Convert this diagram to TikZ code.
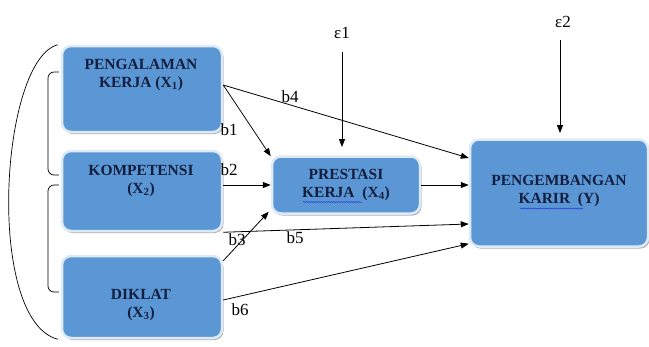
\documentclass[tikz,border=0pt]{standalone}
\usepackage{fontspec}
\setmainfont{Liberation Serif}
\usetikzlibrary{arrows.meta,shadows,decorations.pathmorphing,calc}
\definecolor{boxblue}{RGB}{91,151,213}
\definecolor{glow}{RGB}{222,234,246}
\definecolor{navy}{RGB}{20,30,62}
\definecolor{spell}{RGB}{40,60,220}
\begin{document}
\begin{tikzpicture}[x=1pt,y=-1pt,
  box/.style={draw=glow, line width=2.5pt, fill=boxblue, rounded corners=9pt,
    drop shadow={shadow xshift=1.5pt, shadow yshift=-2pt, fill=black!30, opacity=1},
    inner sep=0pt},
  ttl/.style={font=\bfseries\fontsize{15.5}{18}\selectfont, text=navy, align=center, inner sep=0pt},
  lab/.style={font=\fontsize{17}{17}\selectfont, inner sep=0pt},
  arr/.style={-{Triangle[length=8pt,width=6pt]}, line width=0.8pt},
  brk/.style={line width=0.7pt},
  wavy/.style={spell, line width=0.5pt, decorate, decoration={snake, amplitude=0.6pt, segment length=2.5pt}}
]
\useasboundingbox (0,0) rectangle (649,346);

% boxes
\node[box, minimum width=160pt, minimum height=86pt] (x1) at (142,89) {};
\node[box, minimum width=160pt, minimum height=80pt] (x2) at (142,191) {};
\node[box, minimum width=160pt, minimum height=82pt] (x3) at (142,297) {};
\node[box, minimum width=148pt, minimum height=57pt] (x4) at (346,185) {};
\node[box, minimum width=178pt, minimum height=107pt] (y) at (559,193) {};

% box texts
\node[ttl] (t1) at (141,75) {PENGALAMAN\\KERJA (X\textsubscript{1})};
\node[ttl] (t2) at (141,181) {KOMPETENSI\\(X\textsubscript{2})};
\node[ttl] (t3) at (141,305) {DIKLAT\\(X\textsubscript{3})};
\node[ttl] (t4) at (346,185) {PRESTASI\\KERJA\ \ (X\textsubscript{4})};
\node[ttl] (t5) at (559,191) {PENGEMBANGAN\\KARIR\ \ (Y)};

% spell-check underlines
\draw[wavy] (303,202) -- (362,202);
\draw[wavy] (520,208.5) -- (583,208.5);

% error terms
\node[lab] (e1) at (342,33) {ε1};
\node[lab] (e2) at (563,22) {ε2};
\coordinate (e1end) at (342,147);
\coordinate (e2end) at (560,133);
\draw[arr] (e1.south |- 0,52) -- (e1end);
\draw[arr] (560,40) -- (e2end);

% paths
\draw[arr] ([yshift=4pt]x1.east) -- ([yshift=-1pt]x4.north west);
\draw[arr] ([yshift=4pt]x1.east) -- ([yshift=35pt]y.west);
\draw[arr] ([yshift=6pt]x2.east) -- ([yshift=6pt]x2.east -| x4.west);
\draw[arr] (x2.south east) -- ([yshift=-31pt]y.west);
\draw[arr] ([yshift=-6pt]x3.north east) -- ([xshift=-2pt,yshift=3pt]x4.south west);
\draw[arr] ([yshift=-3pt]x3.east) -- ([yshift=4pt]y.south west);
\draw[arr] (x4.east) -- (x4.east -| y.west);

% path labels
\node[lab] (b1) at (229,130) {b1};
\node[lab] (b2) at (229,170) {b2};
\node[lab] (b3) at (237,240) {b3};
\node[lab] (b4) at (290,97) {b4};
\node[lab] (b5) at (295,238) {b5};
\node[lab] (b6) at (240,310) {b6};

% correlation brackets
\draw[brk] ([xshift=-3pt]x1.north west) .. controls (0,60) and (-15,320) .. ([xshift=-3pt]x3.south west);
\draw[brk, rounded corners=6pt] ([xshift=-2pt,yshift=17pt]x1.west) -- (48,72) -- (48,175) -- ([xshift=-2pt,yshift=16pt]x2.west);
\draw[brk, rounded corners=6pt] ([xshift=-2pt,yshift=6pt]x2.west) -- (48,185) -- (48,292) -- ([xshift=-2pt,yshift=5pt]x3.west);
\end{tikzpicture}
\end{document}
